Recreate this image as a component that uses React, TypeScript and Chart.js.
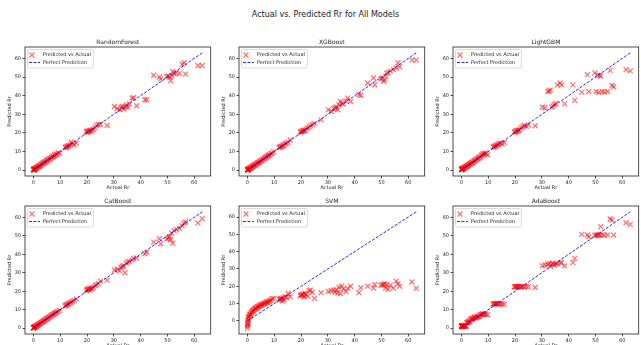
import React, { useEffect, useRef } from 'react';
import { Chart, registerables } from 'chart.js';

Chart.register(...registerables);

// ---------------- DATA ----------------
const actualRr = [
  0.0, 0.05, 0.1, 0.15, 0.2, 0.25, 0.3, 0.4, 0.5, 0.7, 0.9, 1.0, 1.2, 1.4, 1.6, 1.8, 2.0, 2.2, 2.4, 2.6, 2.9, 3.1,
  3.3, 3.6, 3.8, 4.0, 4.3, 4.6, 4.9, 5.1, 5.4, 5.7, 6.0, 6.3, 6.6, 6.9, 7.2, 7.5, 7.8, 8.1, 8.4, 8.8, 9.2, 9.8,
  11.8, 12.1, 12.4, 12.7, 13.0, 13.3, 13.7, 14.1, 14.6, 15.2, 16.0,
  19.7, 20.0, 20.3, 20.6, 20.9, 21.2, 21.5, 21.9, 22.4, 23.0, 23.5, 24.2, 25.0,
  27.5,
  30.2, 31.2, 32.2, 32.7, 33.2, 33.7, 34.2, 34.7, 35.2, 35.8, 36.8, 37.4, 38.5,
  41.6, 42.3,
  44.9, 47.0, 47.5,
  49.8, 50.3, 50.8, 51.2, 51.6, 52.0, 52.5, 53.3, 54.5, 55.5, 56.2, 56.8,
  61.4, 63.0,
];

const randomForestPred = [
  0.3, 0.1, 0.4, 0.2, 0.5, 0.1, 0.6, 0.3, 0.8, 0.6, 1.2, 0.9, 1.5, 1.3, 1.9, 1.6, 2.3, 2.0, 2.7, 2.4, 3.2, 2.9,
  3.6, 3.4, 4.1, 3.9, 4.6, 4.4, 5.2, 4.9, 5.7, 5.5, 6.3, 6.0, 6.9, 6.6, 7.5, 7.2, 8.1, 7.8, 8.7, 8.4, 9.3, 9.0,
  12.3, 12.0, 12.8, 12.5, 13.2, 13.0, 13.6, 15.0, 14.2, 13.8, 14.6,
  20.5, 21.0, 20.3, 20.8, 21.2, 21.5, 20.9, 21.6, 22.0, 22.8, 24.0, 24.5, 24.6,
  24.0,
  34.2, 33.0, 32.4, 33.8, 34.2, 32.8, 34.0, 35.0, 33.8, 35.5, 38.7, 38.9, 34.6,
  37.8, 37.8,
  51.0, 50.0, 49.0,
  50.3, 50.6, 50.0, 48.0, 50.8, 53.0, 51.8, 52.2, 52.0, 56.8, 57.7, 51.6,
  56.2, 56.2,
];

const xgboostPred = [
  0.1, 0.3, 0.0, 0.4, 0.2, 0.5, 0.3, 0.6, 0.4, 0.9, 0.8, 1.2, 1.1, 1.6, 1.4, 2.0, 1.9, 2.4, 2.3, 2.8, 2.7, 3.3,
  3.1, 3.8, 3.6, 4.2, 4.1, 4.8, 4.6, 5.4, 5.1, 5.9, 5.8, 6.5, 6.4, 7.1, 7.0, 7.7, 7.6, 8.3, 8.2, 8.9, 9.1, 9.9,
  12.0, 12.4, 12.5, 12.9, 12.8, 13.5, 13.4, 14.2, 14.5, 15.0, 16.2,
  20.3, 20.6, 20.8, 21.0, 21.3, 21.5, 21.2, 22.0, 22.6, 23.2, 23.8, 24.5, 25.0,
  27.0,
  32.4, 31.5, 33.0, 33.5, 33.9, 32.4, 35.0, 36.9, 36.0, 35.5, 37.0, 38.7, 36.9,
  40.5, 40.2,
  46.8, 49.5, 45.9,
  49.0, 49.5, 47.7, 48.5, 50.4, 52.0, 52.5, 53.2, 54.0, 54.8, 57.7, 55.5,
  59.1, 59.1,
];

const lightgbmPred = [
  0.4, 0.2, 0.5, 0.3, 0.6, 0.4, 0.7, 0.6, 0.8, 1.0, 1.1, 1.3, 1.4, 1.6, 1.8, 2.0, 2.1, 2.3, 2.5, 2.8, 3.0, 3.2,
  3.4, 3.7, 3.9, 4.1, 4.4, 4.7, 5.0, 5.2, 5.5, 5.8, 6.1, 6.4, 6.7, 7.0, 7.3, 8.0, 8.2, 9.0, 8.3, 9.2, 8.8, 8.2,
  12.5, 12.3, 13.0, 12.6, 13.2, 13.5, 13.8, 14.2, 14.5, 14.2, 14.8,
  20.5, 20.3, 21.0, 21.2, 20.8, 21.5, 21.3, 22.0, 22.8, 23.5, 24.0, 23.5, 24.2,
  23.8,
  33.8, 33.5, 42.2, 42.5, 43.0, 33.8, 34.5, 35.2, 35.8, 45.8, 46.8, 45.8, 35.6,
  45.8, 37.5,
  41.8, 51.3, 42.2,
  52.2, 42.2, 51.0, 41.8, 50.9, 50.5, 42.2, 42.0, 42.2, 53.6, 45.5, 44.8,
  54.0, 53.3,
];

const catboostPred = [
  0.2, 0.3, 0.1, 0.4, 0.3, 0.5, 0.4, 0.6, 0.7, 0.8, 1.0, 1.1, 1.3, 1.5, 1.7, 1.9, 2.1, 2.3, 2.5, 2.7, 3.0, 3.2,
  3.4, 3.7, 3.9, 4.1, 4.4, 4.7, 5.0, 5.2, 5.5, 5.8, 6.1, 6.4, 6.7, 7.0, 7.3, 7.6, 7.9, 8.2, 8.5, 8.8, 9.1, 9.6,
  12.0, 12.3, 12.6, 12.8, 13.1, 13.4, 13.8, 14.1, 14.6, 15.0, 15.8,
  20.5, 20.8, 21.2, 21.0, 21.5, 20.6, 21.8, 21.2, 22.0, 23.0, 23.5, 24.2, 25.5,
  26.0,
  31.5, 32.0, 31.0, 33.0, 33.5, 33.8, 30.0, 35.0, 35.8, 36.2, 37.0, 37.8, 38.0,
  40.3, 41.2,
  46.6, 48.4, 45.7,
  48.2, 48.8, 49.5, 48.0, 51.5, 46.0, 52.8, 53.5, 54.0, 55.5, 56.8, 57.5,
  57.0, 59.3,
];

const svmPred = [
  -4.2, -3.0, -2.0, -1.0, 0.0, -1.8, 1.0, 1.8, 2.5, 2.8, 3.5, 4.0, 3.6, 4.8, 5.0, 5.5, 6.0, 5.8, 6.5, 6.8, 7.0, 7.5,
  7.2, 8.0, 7.8, 8.5, 8.3, 9.0, 8.8, 9.3, 9.5, 9.4, 10.0, 10.2, 10.0, 10.8, 11.0, 10.5, 11.3, 11.0, 11.8, 12.0, 12.8, 13.0,
  12.5, 12.2, 13.0, 12.8, 11.5, 13.2, 12.0, 14.0, 13.5, 15.8, 14.0,
  14.5, 15.0, 15.3, 14.8, 15.5, 13.8, 16.0, 15.3, 14.2, 17.5, 17.8, 16.5, 13.0,
  16.3,
  17.0, 17.5, 17.8, 16.5, 18.0, 16.2, 19.5, 15.8, 20.0, 18.5, 17.0, 18.8, 20.0,
  16.3, 19.2,
  20.0, 19.0, 21.0,
  20.5, 21.0, 20.8, 21.5, 19.0, 21.0, 18.2, 20.5, 19.0, 23.0, 21.5, 20.0,
  22.5, 18.8,
];

const adaboostPred = [
  1.2, 0.8, 1.4, 1.0, 1.3, 0.9, 1.2, 1.0, 1.4, 1.2, 0.9, 1.3, 1.0, 1.4, 1.2, 1.0, 3.0, 2.8, 3.3, 3.5, 4.0, 3.2,
  4.5, 5.0, 4.8, 5.3, 5.0, 5.5, 5.8, 6.0, 5.5, 6.2, 6.0, 6.5, 6.2, 7.0, 7.5, 7.3, 7.8, 7.5, 7.5, 7.8, 7.5, 7.2,
  13.0, 13.2, 13.3, 13.1, 13.2, 13.4, 13.0, 13.2, 13.3, 13.1, 13.0,
  22.3, 22.6, 22.4, 22.5, 22.7, 22.3, 22.5, 22.6, 22.4, 22.5, 22.3, 22.6, 22.5,
  22.0,
  33.8, 34.2, 34.5, 35.0, 33.5, 34.8, 35.2, 34.0, 34.6, 35.0, 35.5, 35.5, 33.7,
  35.5, 37.8,
  50.8, 50.5, 49.5,
  50.3, 50.5, 50.2, 50.6, 50.4, 55.0, 50.5, 50.3, 50.5, 59.1, 58.6, 50.4,
  57.1, 56.2,
];

const modelNames = ['RandomForest', 'XGBoost', 'LightGBM', 'CatBoost', 'SVM', 'AdaBoost'];
const modelPreds = [randomForestPred, xgboostPred, lightgbmPred, catboostPred, svmPred, adaboostPred];
const tickValues = [0, 10, 20, 30, 40, 50, 60];
const suptitle = 'Actual vs. Predicted Rr for All Models';
const xLabel = 'Actual Rr';
const yLabel = 'Predicted Rr';
const legendScatter = 'Predicted vs Actual';
const legendLine = 'Perfect Prediction';

// ---------------- LAYOUT ----------------
const FONT = '"DejaVu Sans", Verdana, sans-serif';
const TEXT = '#222';
const AXIS_W = 25;
const TITLE_H = 14;
const XAXIS_H = 16;
const PLOT_W = 191;
const colLefts = [25, 239, 453];
const rowTops = [47, 206];
const rowHeights = [129, 128];
const SCATTER_COLOR = 'rgba(255,0,0,0.55)';
const LINE_COLOR = 'rgba(0,0,255,0.85)';
const MARKER_R = 3.5;
const MARKER_W = 1.3;

const decorPlugin = {
  id: 'panelDecor',
  afterDraw(chart: any, _args: any, opts: any) {
    const { ctx, chartArea: a } = chart;
    ctx.save();
    // frame
    ctx.strokeStyle = TEXT;
    ctx.lineWidth = 0.8;
    ctx.strokeRect(a.left, a.top, a.right - a.left, a.bottom - a.top);
    // title
    ctx.fillStyle = TEXT;
    ctx.font = `6px ${FONT}`;
    ctx.textAlign = 'center';
    ctx.textBaseline = 'alphabetic';
    ctx.fillText(opts.title, (a.left + a.right) / 2, a.top - 3.5);
    // legend
    ctx.font = `5px ${FONT}`;
    const tw = Math.max(ctx.measureText(legendScatter).width, ctx.measureText(legendLine).width);
    const bx = a.left + 2.5;
    const by = a.top + 2.5;
    const textX = a.left + 18;
    const bw = textX + tw + 2.5 - bx;
    const bh = 18.5;
    ctx.beginPath();
    if ((ctx as any).roundRect) (ctx as any).roundRect(bx, by, bw, bh, 1.5);
    else ctx.rect(bx, by, bw, bh);
    ctx.fillStyle = 'rgba(255,255,255,0.8)';
    ctx.fill();
    ctx.strokeStyle = '#ccc';
    ctx.lineWidth = 0.7;
    ctx.stroke();
    const y1 = a.top + 8;
    const y2 = a.top + 15.5;
    // marker
    const mx = a.left + 7;
    const d = MARKER_R * 0.7;
    ctx.strokeStyle = SCATTER_COLOR;
    ctx.lineWidth = MARKER_W;
    ctx.beginPath();
    ctx.moveTo(mx - d, y1 - d);
    ctx.lineTo(mx + d, y1 + d);
    ctx.moveTo(mx - d, y1 + d);
    ctx.lineTo(mx + d, y1 - d);
    ctx.stroke();
    // dashed line
    ctx.strokeStyle = LINE_COLOR;
    ctx.lineWidth = 1;
    ctx.setLineDash([3, 1.5]);
    ctx.beginPath();
    ctx.moveTo(a.left + 4, y2);
    ctx.lineTo(a.left + 15, y2);
    ctx.stroke();
    ctx.setLineDash([]);
    ctx.fillStyle = TEXT;
    ctx.textAlign = 'left';
    ctx.textBaseline = 'middle';
    ctx.fillText(legendScatter, textX, y1);
    ctx.fillText(legendLine, textX, y2);
    ctx.restore();
  },
};

function Panel({ title, pred, left, top, plotH }: { title: string; pred: number[]; left: number; top: number; plotH: number }) {
  const ref = useRef<HTMLCanvasElement>(null);
  const W = AXIS_W + PLOT_W;
  const H = TITLE_H + plotH + XAXIS_H;
  useEffect(() => {
    if (!ref.current) return;
    const xlo = Math.min(...actualRr);
    const xhi = Math.max(...actualRr);
    const ylo = Math.min(xlo, ...pred);
    const yhi = Math.max(xhi, ...pred);
    const xpad = (xhi - xlo) * 0.05;
    const ypad = (yhi - ylo) * 0.05;
    const tickFont = { family: FONT, size: 5 };
    const setTicks = (s: any) => {
      s.ticks = tickValues.map((v) => ({ value: v }));
    };
    const chart = new Chart(ref.current, {
      type: 'scatter',
      data: {
        datasets: [
          {
            type: 'line',
            label: legendLine,
            data: [
              { x: xlo, y: xlo },
              { x: xhi, y: xhi },
            ],
            borderColor: LINE_COLOR,
            borderWidth: 1,
            borderDash: [3, 1.5],
            pointRadius: 0,
            fill: false,
          } as any,
          {
            label: legendScatter,
            data: actualRr.map((a, i) => ({ x: a, y: pred[i] })),
            pointStyle: 'crossRot',
            pointRadius: MARKER_R,
            borderColor: SCATTER_COLOR,
            backgroundColor: SCATTER_COLOR,
            borderWidth: MARKER_W,
          } as any,
        ],
      },
      options: {
        responsive: false,
        animation: false,
        events: [],
        layout: { padding: { top: TITLE_H, left: 0, right: 0, bottom: 0 } },
        plugins: {
          legend: { display: false },
          tooltip: { enabled: false },
          title: { display: false },
          panelDecor: { title },
        } as any,
        scales: {
          x: {
            type: 'linear',
            min: xlo - xpad,
            max: xhi + xpad,
            afterBuildTicks: setTicks,
            afterFit: (s: any) => {
              s.height = XAXIS_H;
            },
            grid: { display: true, drawOnChartArea: false, drawTicks: true, tickLength: 2.5, color: TEXT, lineWidth: 0.8 },
            border: { display: false },
            ticks: { font: tickFont, color: TEXT, padding: 1, maxRotation: 0, autoSkip: false, callback: (v: any) => String(v) },
            title: { display: true, text: xLabel, font: tickFont, color: TEXT, padding: { top: 0, bottom: 1 } },
          },
          y: {
            type: 'linear',
            min: ylo - ypad,
            max: yhi + ypad,
            afterBuildTicks: setTicks,
            afterFit: (s: any) => {
              s.width = AXIS_W;
            },
            grid: { display: true, drawOnChartArea: false, drawTicks: true, tickLength: 2.5, color: TEXT, lineWidth: 0.8 },
            border: { display: false },
            ticks: { font: tickFont, color: TEXT, padding: 1.5, autoSkip: false, callback: (v: any) => String(v) },
            title: { display: true, text: yLabel, font: tickFont, color: TEXT, padding: { top: 7, bottom: 0 } },
          },
        },
      },
      plugins: [decorPlugin],
    } as any);
    return () => chart.destroy();
  }, [pred, title]);
  return (
    <canvas
      ref={ref}
      width={W}
      height={H}
      style={{ position: 'absolute', left: left - AXIS_W, top: top - TITLE_H, width: W, height: H, display: 'block' }}
    />
  );
}

export default function App() {
  return (
    <div
      style={{
        position: 'fixed',
        left: 0,
        top: 0,
        width: 641,
        height: 345,
        overflow: 'hidden',
        background: '#fff',
      }}
    >
      <div
        style={{
          position: 'absolute',
          left: 5,
          top: 11,
          width: 641,
          textAlign: 'center',
          font: `8px ${FONT}`,
          lineHeight: '8px',
          color: TEXT,
          whiteSpace: 'nowrap',
        }}
      >
        {suptitle}
      </div>
      {modelNames.map((name, i) => (
        <Panel
          key={name}
          title={name}
          pred={modelPreds[i]}
          left={colLefts[i % 3]}
          top={rowTops[Math.floor(i / 3)]}
          plotH={rowHeights[Math.floor(i / 3)]}
        />
      ))}
    </div>
  );
}
